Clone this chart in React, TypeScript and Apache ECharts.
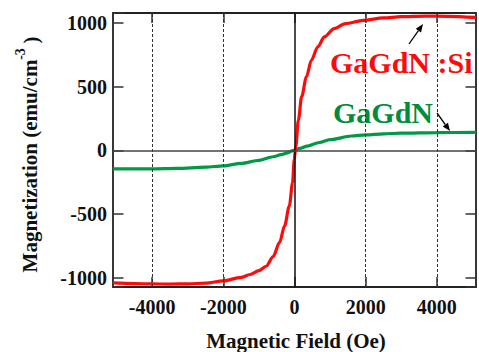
import React, { useEffect, useRef } from "react";
import * as echarts from "echarts";

// GaGdN:Si (red)
const redField = [-5100, -4500, -4000, -3500, -3000, -2500, -2000, -1500, -1250, -1000, -800, -600, -420, -280, -145, -55, -8, 36, 110, 200, 336, 473, 656, 838, 1112, 1429, 1931, 2500, 3000, 3661, 4300, 5100];
const redMag = [-1041, -1046, -1049, -1050, -1048, -1043, -1025, -997, -975, -945, -910, -835, -723, -594, -437, -255, -73, 31, 240, 422, 578, 708, 813, 891, 956, 995, 1021, 1040, 1050, 1055, 1053, 1044];

// GaGdN (green)
const greenField = [-5100, -4000, -3300, -2500, -2000, -1500, -1000, -600, -375, -190, -50, 150, 356, 700, 1000, 1600, 2000, 2500, 3000, 4000, 5100];
const greenMag = [-146, -146, -142, -132, -121, -102, -78, -50, -34, -20, -2, 15, 33, 62, 84, 113, 122, 130, 135, 140, 141];

const dashedFields = [-4000, -2000, 2000, 4000];
const seriesNames = ["GaGdN :Si", "GaGdN"];
const xTitle = "Magnetic Field (Oe)";
const yTitle = "Magnetization (emu/cm";

const FONT = "'Liberation Serif', 'Times New Roman', serif";
const RED = "#ff0a0a";
const GREEN = "#009944";

function arrow(x1: number, y1: number, x2: number, y2: number) {
  const ang = Math.atan2(y2 - y1, x2 - x1);
  const L = 8, W = 3.2;
  const bx = x2 - L * Math.cos(ang), by = y2 - L * Math.sin(ang);
  const px = -Math.sin(ang) * W, py = Math.cos(ang) * W;
  return [
    { type: "line", shape: { x1, y1, x2: bx, y2: by }, style: { stroke: "#000", lineWidth: 1.3 }, silent: true },
    { type: "polygon", shape: { points: [[x2, y2], [bx + px, by + py], [bx - px, by - py]] }, style: { fill: "#000" }, silent: true },
  ];
}

export default function App() {
  const ref = useRef<HTMLDivElement>(null);
  useEffect(() => {
    if (!ref.current) return;
    const chart = echarts.init(ref.current, undefined, { renderer: "svg" });
    const labelX = (v: number) => (v % 2000 === 0 ? String(v) : "");
    const labelY = (v: number) => (v % 500 === 0 ? String(v) : "");
    const axisLineStyle = { color: "#222", width: 1.8 };
    const tickStyle = { color: "#333", width: 1.5 };
    const lblStyle = { fontFamily: FONT, fontWeight: "bold" as const, fontSize: 20, color: "#111" };
    const xBase = {
      type: "value", min: -5100, max: 5100, splitNumber: 5,
      axisLine: { show: true, onZero: false, lineStyle: axisLineStyle },
      axisTick: { show: true, inside: true, length: 10, lineStyle: tickStyle },
      splitLine: { show: false },
    };
    const yBase = {
      type: "value", min: -1073, max: 1079, splitNumber: 4,
      axisLine: { show: true, onZero: false, lineStyle: axisLineStyle },
      axisTick: { show: true, inside: true, length: 10.5, lineStyle: tickStyle },
      splitLine: { show: false },
    };
    chart.setOption({
      animation: false,
      grid: { left: 113, top: 13, width: 369, height: 274, containLabel: false },
      xAxis: [
        { ...xBase, position: "bottom", axisLabel: { ...lblStyle, margin: 10, formatter: labelX } },
        { ...xBase, position: "top", axisLabel: { show: false } },
      ],
      yAxis: [
        { ...yBase, position: "left", axisLabel: { ...lblStyle, margin: 6, formatter: labelY } },
        { ...yBase, position: "right", axisLabel: { show: false } },
      ],
      series: [
        {
          name: seriesNames[1], type: "line", showSymbol: false, symbol: "none",
          smooth: 0.3, smoothMonotone: "x",
          data: greenField.map((x, i) => [x, greenMag[i]]),
          lineStyle: { color: GREEN, width: 3.2 }, itemStyle: { color: GREEN },
          emphasis: { disabled: true }, silent: true,
          markLine: {
            silent: true, symbol: ["none", "none"], label: { show: false },
            data: [
              ...dashedFields.map((v) => ({ xAxis: v, lineStyle: { type: [3, 2], color: "#333", width: 1 } })),
              { xAxis: 0, lineStyle: { type: "solid", color: "#111", width: 1.5 } },
              { yAxis: 0, lineStyle: { type: "solid", color: "#444", width: 1.5 } },
            ],
          },
        },
        {
          name: seriesNames[0], type: "line", showSymbol: false, symbol: "none",
          smooth: 0.3, smoothMonotone: "x",
          data: redField.map((x, i) => [x, redMag[i]]),
          lineStyle: { color: RED, width: 3.2 }, itemStyle: { color: RED },
          emphasis: { disabled: true }, silent: true,
        },
      ],
      graphic: [
        { type: "text", x: 296, y: 341, style: { text: xTitle, font: `bold 21px ${FONT}`, fill: "#111", align: "center", verticalAlign: "middle" } },
        { type: "text", x: 30, y: 166, rotation: Math.PI / 2, style: { text: yTitle, font: `bold 21px ${FONT}`, fill: "#111", align: "center", verticalAlign: "middle" } },
        { type: "text", x: 20, y: 54, rotation: Math.PI / 2, style: { text: "-3", font: `bold 14px ${FONT}`, fill: "#111", align: "center", verticalAlign: "middle" } },
        { type: "text", x: 31, y: 40, rotation: Math.PI / 2, style: { text: ")", font: `bold 21px ${FONT}`, fill: "#111", align: "center", verticalAlign: "middle" } },
        { type: "text", x: 330, y: 62, style: { text: seriesNames[0], font: `bold 30px ${FONT}`, fill: RED, align: "left", verticalAlign: "middle" } },
        { type: "text", x: 333, y: 112, style: { text: seriesNames[1], font: `bold 30px ${FONT}`, fill: "#008c3c", align: "left", verticalAlign: "middle" } },
        ...arrow(409, 44, 423, 24),
        ...arrow(437, 113, 450, 131),
      ],
    });
    return () => chart.dispose();
  }, []);
  return <div ref={ref} style={{ position: "absolute", left: 0, top: 0, width: 479, height: 352 }} />;
}
